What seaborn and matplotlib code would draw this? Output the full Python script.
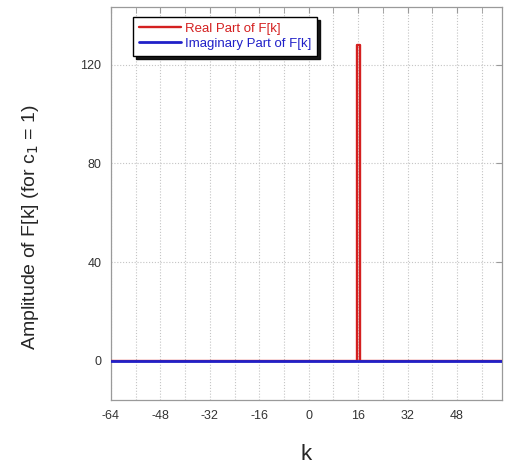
import numpy as np
import pandas as pd
import matplotlib
matplotlib.use("Agg")
import matplotlib.pyplot as plt
from matplotlib.ticker import MultipleLocator
import seaborn as sns

# DFT of a single complex exponential: N = 128 samples, c1 = 1, frequency index 16
k = list(range(-64, 64))
real_part = [128.0 if kk == 16 else 0.0 for kk in k]
imag_part = [0.0 for kk in k]

x_ticks = [-64, -48, -32, -16, 0, 16, 32, 48]
y_ticks = [0, 40, 80, 120]

df = pd.DataFrame({"k": k, "real": real_part, "imag": imag_part})

sns.set_style("white")
plt.rcParams["font.family"] = ["Liberation Sans", "DejaVu Sans"]
plt.rcParams["axes.unicode_minus"] = False

fig = plt.figure(figsize=(5.05, 4.67), dpi=100)
ax = fig.add_axes([0.2198, 0.1435, 0.774, 0.8415])

sns.lineplot(data=df, x="k", y="real", ax=ax, color="#d42020", linewidth=1.7,
             drawstyle="steps-mid", label="Real Part of F[k]", zorder=3)
sns.lineplot(data=df, x="k", y="imag", ax=ax, color="#2020c8", linewidth=2.0,
             label="Imaginary Part of F[k]", zorder=4)

ax.set_xlim(-64, 62.5)
ax.set_ylim(-16, 143.5)
ax.set_xticks(x_ticks)
ax.xaxis.set_minor_locator(MultipleLocator(8))
ax.set_yticks(y_ticks)

grid_kw = dict(color="#c4c4c4", linestyle=(0, (1, 1.6)), linewidth=0.8)
ax.grid(which="both", axis="x", **grid_kw)
ax.grid(which="major", axis="y", **grid_kw)

for sp in ax.spines.values():
    sp.set_color("#9a9a9a")
    sp.set_linewidth(0.9)

ax.tick_params(axis="both", which="both", direction="in", top=True, right=True,
               color="#9a9a9a", labelsize=9, labelcolor="#333333", pad=7)
ax.tick_params(axis="both", which="major", length=4)
ax.tick_params(axis="x", which="minor", length=4)

ax.set_xlabel("k", fontsize=16, labelpad=16)
ax.set_ylabel("Amplitude of F[k] (for c$_1$ = 1)", fontsize=14)
ax.yaxis.set_label_coords(-0.18, 0.44)

leg = ax.legend(loc="upper left", bbox_to_anchor=(0.056, 0.975), frameon=True,
                fancybox=False, shadow={"color": "black", "alpha": 0.9}, edgecolor="black",
                fontsize=9.5, handlelength=3.2, handletextpad=0.3, borderpad=0.45,
                labelspacing=0.2, borderaxespad=0)
leg.get_frame().set_linewidth(1.0)
for txt, col in zip(leg.get_texts(), ["#d42020", "#2020c8"]):
    txt.set_color(col)

fig.savefig("out.png", dpi=100)
